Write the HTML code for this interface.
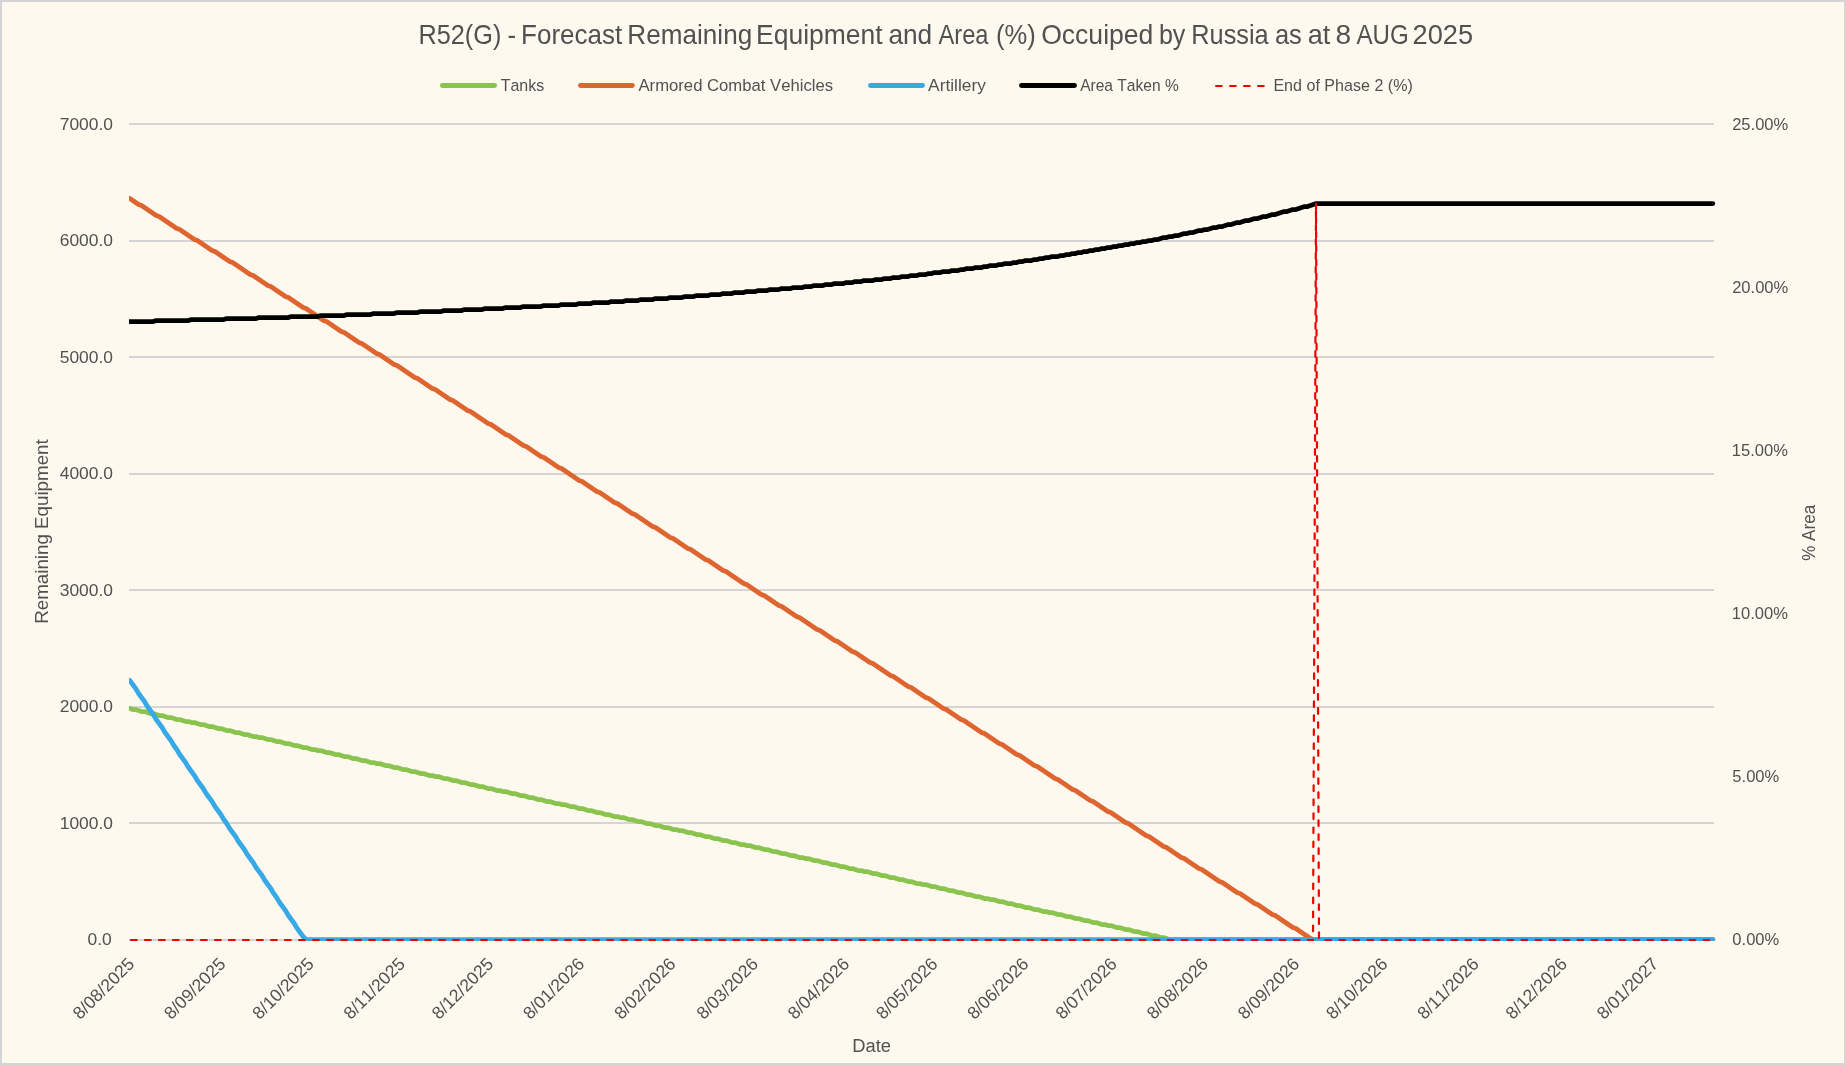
<!DOCTYPE html><html><head><meta charset="utf-8"><title>R52(G) Forecast</title><style>
html,body{margin:0;padding:0;background:#FEF9EE;overflow:hidden;}
svg{display:block;will-change:transform;}
text{font-family:"Liberation Sans", sans-serif;fill:#515151;font-kerning:none;white-space:pre;}
</style></head><body>
<svg width="1846" height="1065" viewBox="0 0 1846 1065">
<rect x="0" y="0" width="1846" height="1065" fill="#D5D5D5"/>
<rect x="2" y="2" width="1842" height="1061" fill="#FEF9EE"/>
<text x="418.53" y="43.60" font-size="26.90" textLength="82.84" lengthAdjust="spacingAndGlyphs">R52(G)</text>
<text x="507.45" y="43.60" font-size="26.90" textLength="8.59" lengthAdjust="spacingAndGlyphs">-</text>
<text x="521.07" y="43.60" font-size="26.90" textLength="101.12" lengthAdjust="spacingAndGlyphs">Forecast</text>
<text x="627.36" y="43.60" font-size="26.90" textLength="124.83" lengthAdjust="spacingAndGlyphs">Remaining</text>
<text x="756.03" y="43.60" font-size="26.90" textLength="126.67" lengthAdjust="spacingAndGlyphs">Equipment</text>
<text x="888.38" y="43.60" font-size="26.90" textLength="43.81" lengthAdjust="spacingAndGlyphs">and</text>
<text x="938.45" y="43.60" font-size="26.90" textLength="50.05" lengthAdjust="spacingAndGlyphs">Area</text>
<text x="996.11" y="43.60" font-size="26.90" textLength="39.77" lengthAdjust="spacingAndGlyphs">(%)</text>
<text x="1041.14" y="43.60" font-size="26.90" textLength="112.27" lengthAdjust="spacingAndGlyphs">Occuiped</text>
<text x="1158.89" y="43.60" font-size="26.90" textLength="26.46" lengthAdjust="spacingAndGlyphs">by</text>
<text x="1191.32" y="43.60" font-size="26.90" textLength="77.38" lengthAdjust="spacingAndGlyphs">Russia</text>
<text x="1274.92" y="43.60" font-size="26.90" textLength="26.90" lengthAdjust="spacingAndGlyphs">as</text>
<text x="1307.75" y="43.60" font-size="26.90" textLength="22.55" lengthAdjust="spacingAndGlyphs">at</text>
<text x="1335.48" y="43.60" font-size="26.90" textLength="15.64" lengthAdjust="spacingAndGlyphs">8</text>
<text x="1356.45" y="43.60" font-size="26.90" textLength="52.25" lengthAdjust="spacingAndGlyphs">AUG</text>
<text x="1412.53" y="43.60" font-size="26.90" textLength="60.61" lengthAdjust="spacingAndGlyphs">2025</text>
<rect x="129.00" y="123" width="1585.00" height="2" fill="#D5D5D7"/>
<rect x="129.00" y="240" width="1585.00" height="2" fill="#D5D5D7"/>
<rect x="129.00" y="356" width="1585.00" height="2" fill="#D5D5D7"/>
<rect x="129.00" y="473" width="1585.00" height="2" fill="#D5D5D7"/>
<rect x="129.00" y="589" width="1585.00" height="2" fill="#D5D5D7"/>
<rect x="129.00" y="706" width="1585.00" height="2" fill="#D5D5D7"/>
<rect x="129.00" y="822" width="1585.00" height="2" fill="#D5D5D7"/>
<rect x="129.00" y="939" width="1585.00" height="2" fill="#D5D5D7"/>
<text x="59.71" y="130.00" font-size="17.40" textLength="53.27" lengthAdjust="spacingAndGlyphs">7000.0</text>
<text x="59.71" y="246.00" font-size="17.40" textLength="53.27" lengthAdjust="spacingAndGlyphs">6000.0</text>
<text x="59.71" y="363.00" font-size="17.40" textLength="53.27" lengthAdjust="spacingAndGlyphs">5000.0</text>
<text x="59.71" y="479.00" font-size="17.40" textLength="53.27" lengthAdjust="spacingAndGlyphs">4000.0</text>
<text x="59.71" y="596.00" font-size="17.40" textLength="53.27" lengthAdjust="spacingAndGlyphs">3000.0</text>
<text x="59.71" y="712.00" font-size="17.40" textLength="53.27" lengthAdjust="spacingAndGlyphs">2000.0</text>
<text x="59.71" y="829.00" font-size="17.40" textLength="53.27" lengthAdjust="spacingAndGlyphs">1000.0</text>
<text x="87.57" y="945.00" font-size="17.40" textLength="24.21" lengthAdjust="spacingAndGlyphs">0.0</text>
<text x="1732.17" y="130.00" font-size="17.40" textLength="56.12" lengthAdjust="spacingAndGlyphs">25.00%</text>
<text x="1732.17" y="293.00" font-size="17.40" textLength="56.12" lengthAdjust="spacingAndGlyphs">20.00%</text>
<text x="1731.74" y="456.00" font-size="17.40" textLength="56.12" lengthAdjust="spacingAndGlyphs">15.00%</text>
<text x="1731.74" y="619.00" font-size="17.40" textLength="56.12" lengthAdjust="spacingAndGlyphs">10.00%</text>
<text x="1732.34" y="782.00" font-size="17.40" textLength="46.92" lengthAdjust="spacingAndGlyphs">5.00%</text>
<text x="1732.35" y="945.00" font-size="17.40" textLength="46.92" lengthAdjust="spacingAndGlyphs">0.00%</text>
<text transform="translate(135.40,965.00) rotate(-45)" font-size="17.6" text-anchor="end">8/08/2025</text>
<text transform="translate(226.60,965.00) rotate(-45)" font-size="17.6" text-anchor="end">8/09/2025</text>
<text transform="translate(314.86,965.00) rotate(-45)" font-size="17.6" text-anchor="end">8/10/2025</text>
<text transform="translate(406.06,965.00) rotate(-45)" font-size="17.6" text-anchor="end">8/11/2025</text>
<text transform="translate(494.32,965.00) rotate(-45)" font-size="17.6" text-anchor="end">8/12/2025</text>
<text transform="translate(585.53,965.00) rotate(-45)" font-size="17.6" text-anchor="end">8/01/2026</text>
<text transform="translate(676.73,965.00) rotate(-45)" font-size="17.6" text-anchor="end">8/02/2026</text>
<text transform="translate(759.10,965.00) rotate(-45)" font-size="17.6" text-anchor="end">8/03/2026</text>
<text transform="translate(850.31,965.00) rotate(-45)" font-size="17.6" text-anchor="end">8/04/2026</text>
<text transform="translate(938.57,965.00) rotate(-45)" font-size="17.6" text-anchor="end">8/05/2026</text>
<text transform="translate(1029.77,965.00) rotate(-45)" font-size="17.6" text-anchor="end">8/06/2026</text>
<text transform="translate(1118.03,965.00) rotate(-45)" font-size="17.6" text-anchor="end">8/07/2026</text>
<text transform="translate(1209.23,965.00) rotate(-45)" font-size="17.6" text-anchor="end">8/08/2026</text>
<text transform="translate(1300.43,965.00) rotate(-45)" font-size="17.6" text-anchor="end">8/09/2026</text>
<text transform="translate(1388.69,965.00) rotate(-45)" font-size="17.6" text-anchor="end">8/10/2026</text>
<text transform="translate(1479.89,965.00) rotate(-45)" font-size="17.6" text-anchor="end">8/11/2026</text>
<text transform="translate(1568.15,965.00) rotate(-45)" font-size="17.6" text-anchor="end">8/12/2026</text>
<text transform="translate(1659.36,965.00) rotate(-45)" font-size="17.6" text-anchor="end">8/01/2027</text>
<text transform="translate(48,0) rotate(-90)" x="-623.74" y="0" font-size="19.20" textLength="184.48" lengthAdjust="spacingAndGlyphs">Remaining Equipment</text>
<text transform="translate(1815.2,0) rotate(-90)" x="-560.81" y="0" font-size="19.20" textLength="55.91" lengthAdjust="spacingAndGlyphs">% Area</text>
<text x="852.30" y="1051.80" font-size="19.20" textLength="38.72" lengthAdjust="spacingAndGlyphs">Date</text>
<line x1="442.4" y1="85.5" x2="494.6" y2="85.5" stroke="#8BC34F" stroke-width="4.9" stroke-linecap="round"/>
<text x="500.64" y="91.00" font-size="17.20" textLength="43.54" lengthAdjust="spacingAndGlyphs">Tanks</text>
<line x1="580.5" y1="85.5" x2="632.3" y2="85.5" stroke="#DF6530" stroke-width="4.9" stroke-linecap="round"/>
<text x="638.47" y="91.00" font-size="17.20" textLength="194.64" lengthAdjust="spacingAndGlyphs">Armored Combat Vehicles</text>
<line x1="870.5" y1="85.5" x2="922.5" y2="85.5" stroke="#37A9E7" stroke-width="4.9" stroke-linecap="round"/>
<text x="928.07" y="91.00" font-size="17.20" textLength="57.87" lengthAdjust="spacingAndGlyphs">Artillery</text>
<line x1="1021.5" y1="85.5" x2="1074.5" y2="85.5" stroke="#000000" stroke-width="4.9" stroke-linecap="round"/>
<text x="1080.17" y="91.00" font-size="17.20" textLength="98.58" lengthAdjust="spacingAndGlyphs">Area Taken %</text>
<line x1="1216.1" y1="86" x2="1270" y2="86" stroke="#EE0000" stroke-width="2.2" stroke-dasharray="5.6 8.41" stroke-linecap="round"/>
<text x="1273.38" y="91.00" font-size="17.20" textLength="139.42" lengthAdjust="spacingAndGlyphs">End of Phase 2 (%)</text>
<defs><clipPath id="pc"><rect x="129" y="100" width="1590" height="841"/></clipPath></defs>
<g clip-path="url(#pc)" fill="none" stroke-linejoin="round" stroke-linecap="round">
<polyline points="129.80,708.50 132.74,709.50 135.67,709.50 138.61,710.50 141.55,711.50 144.49,711.50 147.42,712.50 150.36,713.50 153.30,713.50 156.23,714.50 159.17,715.50 162.11,715.50 165.04,716.50 167.98,717.50 170.92,717.50 173.86,718.50 176.79,719.50 179.73,719.50 182.67,720.50 185.60,721.50 188.54,721.50 191.48,722.50 194.41,722.50 197.35,723.50 200.29,724.50 203.23,724.50 206.16,725.50 209.10,726.50 212.04,726.50 214.97,727.50 217.91,728.50 220.85,728.50 223.78,729.50 226.72,730.50 229.66,730.50 232.59,731.50 235.53,732.50 238.47,732.50 241.41,733.50 244.34,734.50 247.28,734.50 250.22,735.50 253.15,736.50 256.09,736.50 259.03,737.50 261.97,737.50 264.90,738.50 267.84,739.50 270.78,739.50 273.71,740.50 276.65,741.50 279.59,741.50 282.52,742.50 285.46,743.50 288.40,743.50 291.34,744.50 294.27,745.50 297.21,745.50 300.15,746.50 303.08,747.50 306.02,747.50 308.96,748.50 311.89,749.50 314.83,749.50 317.77,750.50 320.71,750.50 323.64,751.50 326.58,752.50 329.52,752.50 332.45,753.50 335.39,754.50 338.33,754.50 341.26,755.50 344.20,756.50 347.14,756.50 350.07,757.50 353.01,758.50 355.95,758.50 358.89,759.50 361.82,760.50 364.76,760.50 367.70,761.50 370.63,762.50 373.57,762.50 376.51,763.50 379.44,763.50 382.38,764.50 385.32,765.50 388.26,765.50 391.19,766.50 394.13,767.50 397.07,767.50 400.00,768.50 402.94,769.50 405.88,769.50 408.81,770.50 411.75,771.50 414.69,771.50 417.63,772.50 420.56,773.50 423.50,773.50 426.44,774.50 429.37,775.50 432.31,775.50 435.25,776.50 438.19,776.50 441.12,777.50 444.06,778.50 447.00,778.50 449.93,779.50 452.87,780.50 455.81,780.50 458.74,781.50 461.68,782.50 464.62,782.50 467.56,783.50 470.49,784.50 473.43,784.50 476.37,785.50 479.30,786.50 482.24,786.50 485.18,787.50 488.11,788.50 491.05,788.50 493.99,789.50 496.93,790.50 499.86,790.50 502.80,791.50 505.74,791.50 508.67,792.50 511.61,793.50 514.55,793.50 517.48,794.50 520.42,795.50 523.36,795.50 526.30,796.50 529.23,797.50 532.17,797.50 535.11,798.50 538.04,799.50 540.98,799.50 543.92,800.50 546.85,801.50 549.79,801.50 552.73,802.50 555.66,803.50 558.60,803.50 561.54,804.50 564.48,804.50 567.41,805.50 570.35,806.50 573.29,806.50 576.22,807.50 579.16,808.50 582.10,808.50 585.03,809.50 587.97,810.50 590.91,810.50 593.85,811.50 596.78,812.50 599.72,812.50 602.66,813.50 605.59,814.50 608.53,814.50 611.47,815.50 614.40,816.50 617.34,816.50 620.28,817.50 623.22,817.50 626.15,818.50 629.09,819.50 632.03,819.50 634.96,820.50 637.90,821.50 640.84,821.50 643.78,822.50 646.71,823.50 649.65,823.50 652.59,824.50 655.52,825.50 658.46,825.50 661.40,826.50 664.33,827.50 667.27,827.50 670.21,828.50 673.14,829.50 676.08,829.50 679.02,830.50 681.96,830.50 684.89,831.50 687.83,832.50 690.77,832.50 693.70,833.50 696.64,834.50 699.58,834.50 702.51,835.50 705.45,836.50 708.39,836.50 711.33,837.50 714.26,838.50 717.20,838.50 720.14,839.50 723.07,840.50 726.01,840.50 728.95,841.50 731.88,842.50 734.82,842.50 737.76,843.50 740.70,844.50 743.63,844.50 746.57,845.50 749.51,845.50 752.44,846.50 755.38,847.50 758.32,847.50 761.25,848.50 764.19,849.50 767.13,849.50 770.07,850.50 773.00,851.50 775.94,851.50 778.88,852.50 781.81,853.50 784.75,853.50 787.69,854.50 790.62,855.50 793.56,855.50 796.50,856.50 799.44,857.50 802.37,857.50 805.31,858.50 808.25,858.50 811.18,859.50 814.12,860.50 817.06,860.50 819.99,861.50 822.93,862.50 825.87,862.50 828.81,863.50 831.74,864.50 834.68,864.50 837.62,865.50 840.55,866.50 843.49,866.50 846.43,867.50 849.37,868.50 852.30,868.50 855.24,869.50 858.18,870.50 861.11,870.50 864.05,871.50 866.99,871.50 869.92,872.50 872.86,873.50 875.80,873.50 878.73,874.50 881.67,875.50 884.61,875.50 887.55,876.50 890.48,877.50 893.42,877.50 896.36,878.50 899.29,879.50 902.23,879.50 905.17,880.50 908.11,881.50 911.04,881.50 913.98,882.50 916.92,883.50 919.85,883.50 922.79,884.50 925.73,884.50 928.66,885.50 931.60,886.50 934.54,886.50 937.47,887.50 940.41,888.50 943.35,888.50 946.29,889.50 949.22,890.50 952.16,890.50 955.10,891.50 958.03,892.50 960.97,892.50 963.91,893.50 966.85,894.50 969.78,894.50 972.72,895.50 975.66,896.50 978.59,896.50 981.53,897.50 984.47,898.50 987.40,898.50 990.34,899.50 993.28,899.50 996.21,900.50 999.15,901.50 1002.09,901.50 1005.03,902.50 1007.96,903.50 1010.90,903.50 1013.84,904.50 1016.77,905.50 1019.71,905.50 1022.65,906.50 1025.59,907.50 1028.52,907.50 1031.46,908.50 1034.40,909.50 1037.33,909.50 1040.27,910.50 1043.21,911.50 1046.14,911.50 1049.08,912.50 1052.02,912.50 1054.95,913.50 1057.89,914.50 1060.83,914.50 1063.77,915.50 1066.70,916.50 1069.64,916.50 1072.58,917.50 1075.51,918.50 1078.45,918.50 1081.39,919.50 1084.33,920.50 1087.26,920.50 1090.20,921.50 1093.14,922.50 1096.07,922.50 1099.01,923.50 1101.95,924.50 1104.88,924.50 1107.82,925.50 1110.76,925.50 1113.69,926.50 1116.63,927.50 1119.57,927.50 1122.51,928.50 1125.44,929.50 1128.38,929.50 1131.32,930.50 1134.25,931.50 1137.19,931.50 1140.13,932.50 1143.07,933.50 1146.00,933.50 1148.94,934.50 1151.88,935.50 1154.81,935.50 1157.75,936.50 1160.69,937.50 1163.62,937.50 1166.56,938.50 1169.50,939.50 1712.84,939.50" stroke="#8BC34F" stroke-width="4.75"/>
<polyline points="129.80,198.50 132.74,200.50 135.67,202.50 138.61,204.50 141.55,205.50 144.49,207.50 147.42,209.50 150.36,211.50 153.30,213.50 156.23,215.50 159.17,216.50 162.11,218.50 165.04,220.50 167.98,222.50 170.92,224.50 173.86,226.50 176.79,228.50 179.73,229.50 182.67,231.50 185.60,233.50 188.54,235.50 191.48,237.50 194.41,239.50 197.35,240.50 200.29,242.50 203.23,244.50 206.16,246.50 209.10,248.50 212.04,250.50 214.97,251.50 217.91,253.50 220.85,255.50 223.78,257.50 226.72,259.50 229.66,261.50 232.59,262.50 235.53,264.50 238.47,266.50 241.41,268.50 244.34,270.50 247.28,272.50 250.22,274.50 253.15,275.50 256.09,277.50 259.03,279.50 261.97,281.50 264.90,283.50 267.84,285.50 270.78,286.50 273.71,288.50 276.65,290.50 279.59,292.50 282.52,294.50 285.46,296.50 288.40,297.50 291.34,299.50 294.27,301.50 297.21,303.50 300.15,305.50 303.08,307.50 306.02,308.50 308.96,310.50 311.89,312.50 314.83,314.50 317.77,316.50 320.71,318.50 323.64,320.50 326.58,321.50 329.52,323.50 332.45,325.50 335.39,327.50 338.33,329.50 341.26,331.50 344.20,332.50 347.14,334.50 350.07,336.50 353.01,338.50 355.95,340.50 358.89,342.50 361.82,343.50 364.76,345.50 367.70,347.50 370.63,349.50 373.57,351.50 376.51,353.50 379.44,354.50 382.38,356.50 385.32,358.50 388.26,360.50 391.19,362.50 394.13,364.50 397.07,365.50 400.00,367.50 402.94,369.50 405.88,371.50 408.81,373.50 411.75,375.50 414.69,377.50 417.63,378.50 420.56,380.50 423.50,382.50 426.44,384.50 429.37,386.50 432.31,388.50 435.25,389.50 438.19,391.50 441.12,393.50 444.06,395.50 447.00,397.50 449.93,399.50 452.87,400.50 455.81,402.50 458.74,404.50 461.68,406.50 464.62,408.50 467.56,410.50 470.49,411.50 473.43,413.50 476.37,415.50 479.30,417.50 482.24,419.50 485.18,421.50 488.11,423.50 491.05,424.50 493.99,426.50 496.93,428.50 499.86,430.50 502.80,432.50 505.74,434.50 508.67,435.50 511.61,437.50 514.55,439.50 517.48,441.50 520.42,443.50 523.36,445.50 526.30,446.50 529.23,448.50 532.17,450.50 535.11,452.50 538.04,454.50 540.98,456.50 543.92,457.50 546.85,459.50 549.79,461.50 552.73,463.50 555.66,465.50 558.60,467.50 561.54,468.50 564.48,470.50 567.41,472.50 570.35,474.50 573.29,476.50 576.22,478.50 579.16,480.50 582.10,481.50 585.03,483.50 587.97,485.50 590.91,487.50 593.85,489.50 596.78,491.50 599.72,492.50 602.66,494.50 605.59,496.50 608.53,498.50 611.47,500.50 614.40,502.50 617.34,503.50 620.28,505.50 623.22,507.50 626.15,509.50 629.09,511.50 632.03,513.50 634.96,514.50 637.90,516.50 640.84,518.50 643.78,520.50 646.71,522.50 649.65,524.50 652.59,526.50 655.52,527.50 658.46,529.50 661.40,531.50 664.33,533.50 667.27,535.50 670.21,537.50 673.14,538.50 676.08,540.50 679.02,542.50 681.96,544.50 684.89,546.50 687.83,548.50 690.77,549.50 693.70,551.50 696.64,553.50 699.58,555.50 702.51,557.50 705.45,559.50 708.39,560.50 711.33,562.50 714.26,564.50 717.20,566.50 720.14,568.50 723.07,570.50 726.01,571.50 728.95,573.50 731.88,575.50 734.82,577.50 737.76,579.50 740.70,581.50 743.63,583.50 746.57,584.50 749.51,586.50 752.44,588.50 755.38,590.50 758.32,592.50 761.25,594.50 764.19,595.50 767.13,597.50 770.07,599.50 773.00,601.50 775.94,603.50 778.88,605.50 781.81,606.50 784.75,608.50 787.69,610.50 790.62,612.50 793.56,614.50 796.50,616.50 799.44,617.50 802.37,619.50 805.31,621.50 808.25,623.50 811.18,625.50 814.12,627.50 817.06,629.50 819.99,630.50 822.93,632.50 825.87,634.50 828.81,636.50 831.74,638.50 834.68,640.50 837.62,641.50 840.55,643.50 843.49,645.50 846.43,647.50 849.37,649.50 852.30,651.50 855.24,652.50 858.18,654.50 861.11,656.50 864.05,658.50 866.99,660.50 869.92,662.50 872.86,663.50 875.80,665.50 878.73,667.50 881.67,669.50 884.61,671.50 887.55,673.50 890.48,675.50 893.42,676.50 896.36,678.50 899.29,680.50 902.23,682.50 905.17,684.50 908.11,686.50 911.04,687.50 913.98,689.50 916.92,691.50 919.85,693.50 922.79,695.50 925.73,697.50 928.66,698.50 931.60,700.50 934.54,702.50 937.47,704.50 940.41,706.50 943.35,708.50 946.29,709.50 949.22,711.50 952.16,713.50 955.10,715.50 958.03,717.50 960.97,719.50 963.91,720.50 966.85,722.50 969.78,724.50 972.72,726.50 975.66,728.50 978.59,730.50 981.53,732.50 984.47,733.50 987.40,735.50 990.34,737.50 993.28,739.50 996.21,741.50 999.15,743.50 1002.09,744.50 1005.03,746.50 1007.96,748.50 1010.90,750.50 1013.84,752.50 1016.77,754.50 1019.71,755.50 1022.65,757.50 1025.59,759.50 1028.52,761.50 1031.46,763.50 1034.40,765.50 1037.33,766.50 1040.27,768.50 1043.21,770.50 1046.14,772.50 1049.08,774.50 1052.02,776.50 1054.95,778.50 1057.89,779.50 1060.83,781.50 1063.77,783.50 1066.70,785.50 1069.64,787.50 1072.58,789.50 1075.51,790.50 1078.45,792.50 1081.39,794.50 1084.33,796.50 1087.26,798.50 1090.20,800.50 1093.14,801.50 1096.07,803.50 1099.01,805.50 1101.95,807.50 1104.88,809.50 1107.82,811.50 1110.76,812.50 1113.69,814.50 1116.63,816.50 1119.57,818.50 1122.51,820.50 1125.44,822.50 1128.38,823.50 1131.32,825.50 1134.25,827.50 1137.19,829.50 1140.13,831.50 1143.07,833.50 1146.00,835.50 1148.94,836.50 1151.88,838.50 1154.81,840.50 1157.75,842.50 1160.69,844.50 1163.62,846.50 1166.56,847.50 1169.50,849.50 1172.43,851.50 1175.37,853.50 1178.31,855.50 1181.25,857.50 1184.18,858.50 1187.12,860.50 1190.06,862.50 1192.99,864.50 1195.93,866.50 1198.87,868.50 1201.80,869.50 1204.74,871.50 1207.68,873.50 1210.62,875.50 1213.55,877.50 1216.49,879.50 1219.43,881.50 1222.36,882.50 1225.30,884.50 1228.24,886.50 1231.17,888.50 1234.11,890.50 1237.05,892.50 1239.99,893.50 1242.92,895.50 1245.86,897.50 1248.80,899.50 1251.73,901.50 1254.67,903.50 1257.61,904.50 1260.54,906.50 1263.48,908.50 1266.42,910.50 1269.36,912.50 1272.29,914.50 1275.23,915.50 1278.17,917.50 1281.10,919.50 1284.04,921.50 1286.98,923.50 1289.91,925.50 1292.85,927.50 1295.79,928.50 1298.73,930.50 1301.66,932.50 1304.60,934.50 1307.54,936.50 1310.47,938.50 1313.41,939.50 1712.84,939.50" stroke="#DF6530" stroke-width="4.75"/>
<polyline points="129.80,680.50 132.74,684.50 135.67,688.50 138.61,693.50 141.55,697.50 144.49,701.50 147.42,706.50 150.36,710.50 153.30,714.50 156.23,719.50 159.17,723.50 162.11,727.50 165.04,732.50 167.98,736.50 170.92,740.50 173.86,745.50 176.79,749.50 179.73,754.50 182.67,758.50 185.60,762.50 188.54,767.50 191.48,771.50 194.41,775.50 197.35,780.50 200.29,784.50 203.23,788.50 206.16,793.50 209.10,797.50 212.04,801.50 214.97,806.50 217.91,810.50 220.85,814.50 223.78,819.50 226.72,823.50 229.66,828.50 232.59,832.50 235.53,836.50 238.47,841.50 241.41,845.50 244.34,849.50 247.28,854.50 250.22,858.50 253.15,862.50 256.09,867.50 259.03,871.50 261.97,875.50 264.90,880.50 267.84,884.50 270.78,888.50 273.71,893.50 276.65,897.50 279.59,902.50 282.52,906.50 285.46,910.50 288.40,915.50 291.34,919.50 294.27,923.50 297.21,928.50 300.15,932.50 303.08,936.50 306.02,939.50 1712.84,939.50" stroke="#37A9E7" stroke-width="4.75"/>
<polyline points="129.80,321.50 153.30,321.50 156.23,320.50 188.54,320.50 191.48,319.50 223.78,319.50 226.72,318.50 256.09,318.50 259.03,317.50 288.40,317.50 291.34,316.50 317.77,316.50 320.71,315.50 344.20,315.50 347.14,314.50 370.63,314.50 373.57,313.50 394.13,313.50 397.07,312.50 417.63,312.50 420.56,311.50 441.12,311.50 444.06,310.50 461.68,310.50 464.62,309.50 482.24,309.50 485.18,308.50 502.80,308.50 505.74,307.50 520.42,307.50 523.36,306.50 540.98,306.50 543.92,305.50 558.60,305.50 561.54,304.50 576.22,304.50 579.16,303.50 590.91,303.50 593.85,302.50 608.53,302.50 611.47,301.50 623.22,301.50 626.15,300.50 637.90,300.50 640.84,299.50 652.59,299.50 655.52,298.50 667.27,298.50 670.21,297.50 681.96,297.50 684.89,296.50 693.70,296.50 696.64,295.50 708.39,295.50 711.33,294.50 720.14,294.50 723.07,293.50 731.88,293.50 734.82,292.50 743.63,292.50 746.57,291.50 755.38,291.50 758.32,290.50 767.13,290.50 770.07,289.50 778.88,289.50 781.81,288.50 790.62,288.50 793.56,287.50 802.37,287.50 805.31,286.50 811.18,286.50 814.12,285.50 822.93,285.50 825.87,284.50 831.74,284.50 834.68,283.50 843.49,283.50 846.43,282.50 852.30,282.50 855.24,281.50 861.11,281.50 864.05,280.50 872.86,280.50 875.80,279.50 881.67,279.50 884.61,278.50 890.48,278.50 893.42,277.50 899.29,277.50 902.23,276.50 908.11,276.50 911.04,275.50 916.92,275.50 919.85,274.50 925.73,274.50 928.66,273.50 931.60,273.50 934.54,272.50 940.41,272.50 943.35,271.50 949.22,271.50 952.16,270.50 958.03,270.50 960.97,269.50 963.91,269.50 966.85,268.50 972.72,268.50 975.66,267.50 981.53,267.50 984.47,266.50 987.40,266.50 990.34,265.50 996.21,265.50 999.15,264.50 1002.09,264.50 1005.03,263.50 1010.90,263.50 1013.84,262.50 1016.77,262.50 1019.71,261.50 1022.65,261.50 1025.59,260.50 1031.46,260.50 1034.40,259.50 1037.33,259.50 1040.27,258.50 1043.21,258.50 1046.14,257.50 1049.08,257.50 1052.02,256.50 1057.89,256.50 1060.83,255.50 1063.77,255.50 1066.70,254.50 1069.64,254.50 1072.58,253.50 1075.51,253.50 1078.45,252.50 1081.39,252.50 1084.33,251.50 1087.26,251.50 1090.20,250.50 1093.14,250.50 1096.07,249.50 1099.01,249.50 1101.95,248.50 1104.88,248.50 1107.82,247.50 1110.76,247.50 1113.69,246.50 1116.63,246.50 1119.57,245.50 1122.51,245.50 1125.44,244.50 1128.38,244.50 1131.32,243.50 1134.25,243.50 1137.19,242.50 1140.13,242.50 1143.07,241.50 1146.00,241.50 1148.94,240.50 1151.88,240.50 1154.81,239.50 1157.75,239.50 1160.69,238.50 1163.62,237.50 1166.56,237.50 1169.50,236.50 1172.43,236.50 1175.37,235.50 1178.31,235.50 1181.25,234.50 1184.18,233.50 1187.12,233.50 1190.06,232.50 1192.99,232.50 1195.93,231.50 1198.87,230.50 1201.80,230.50 1204.74,229.50 1207.68,229.50 1210.62,228.50 1213.55,227.50 1216.49,227.50 1219.43,226.50 1222.36,226.50 1225.30,225.50 1228.24,224.50 1231.17,224.50 1234.11,223.50 1237.05,222.50 1239.99,222.50 1242.92,221.50 1245.86,220.50 1248.80,220.50 1251.73,219.50 1254.67,218.50 1257.61,218.50 1260.54,217.50 1263.48,216.50 1266.42,216.50 1269.36,215.50 1272.29,214.50 1275.23,214.50 1278.17,213.50 1281.10,212.50 1284.04,211.50 1286.98,211.50 1289.91,210.50 1292.85,209.50 1295.79,209.50 1298.73,208.50 1301.66,207.50 1304.60,206.50 1307.54,206.50 1310.47,205.50 1313.41,204.50 1316.35,203.50 1712.84,203.50" stroke="#000000" stroke-width="4.75"/>
<polyline points="129.00,940.00 1313.00,940.00 1316.00,203.25 1319.00,940.00 1714.00,940.00" stroke="#EE0000" stroke-width="2.2" stroke-dasharray="5.6 8.41" stroke-dashoffset="-2"/>
</g>
</svg></body></html>
